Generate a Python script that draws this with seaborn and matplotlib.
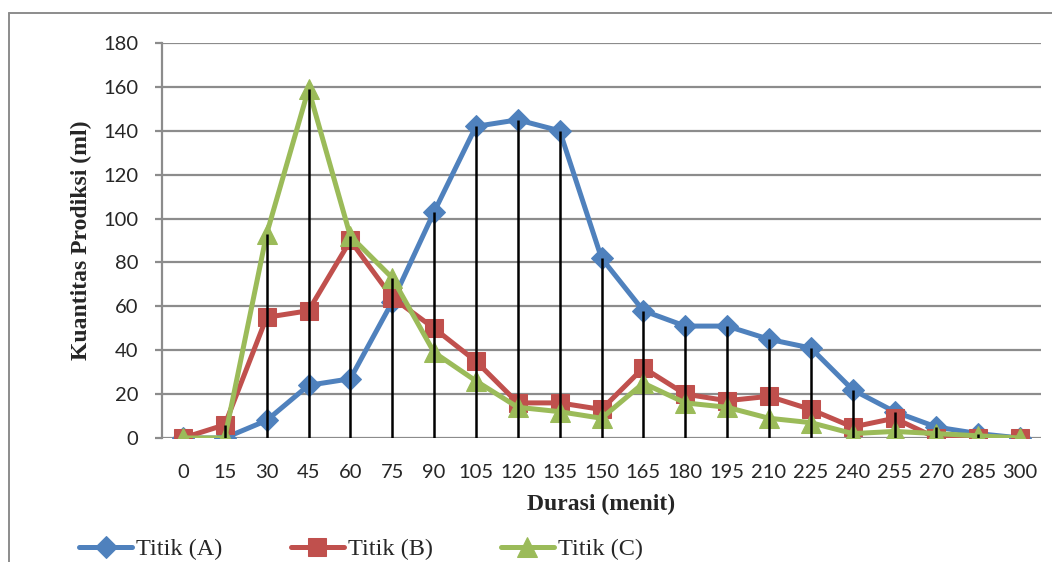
import matplotlib
matplotlib.use("Agg")
import matplotlib.pyplot as plt
import seaborn as sns
import pandas as pd
from matplotlib.lines import Line2D

# --- DATA ---
durasi = [0, 15, 30, 45, 60, 75, 90, 105, 120, 135, 150,
          165, 180, 195, 210, 225, 240, 255, 270, 285, 300]
titik_a = [0, 0, 8, 24, 27, 62, 103, 142, 145, 140, 82,
           58, 51, 51, 45, 41, 22, 12, 5, 2, 0]
titik_b = [0, 6, 55, 58, 90, 64, 50, 35, 16, 16, 13,
           32, 20, 17, 19, 13, 5, 9, 0, 0, 0]
titik_c = [0, 0, 93, 159, 92, 73, 39, 26, 14, 12, 9,
           25, 16, 14, 9, 7, 2, 3, 2, 1, 0]
y_ticks = [0, 20, 40, 60, 80, 100, 120, 140, 160, 180]

# --- STYLE ---
c_a = '#4F81BD'
c_b = '#C0504D'
c_c = '#9BBB59'
grid_c = '#8C8C8C'
serif = ['Liberation Serif', 'DejaVu Serif']
sans = ['Lato', 'DejaVu Sans']

sns.set_style("white")
plt.rcParams['font.family'] = sans

df = pd.DataFrame({'idx': range(len(durasi)), 'A': titik_a, 'B': titik_b, 'C': titik_c})

fig = plt.figure(figsize=(10.52, 5.62), dpi=100)
ax = fig.add_axes([162 / 1052, 1 - 438 / 562, (1041 - 162) / 1052, (438 - 43) / 562])

series = [('A', 'Titik (A)', c_a, 'D', 11),
          ('B', 'Titik (B)', c_b, 's', 12.5),
          ('C', 'Titik (C)', c_c, '^', 14)]
for col, lab, c, m, ms in series:
    sns.lineplot(data=df, x='idx', y=col, ax=ax, color=c, label=lab,
                 linewidth=3.6, marker=m, markersize=ms, markeredgecolor=c,
                 zorder=3)

# drop lines from the highest point at each duration
tops = df[['A', 'B', 'C']].max(axis=1)
ax.vlines(df['idx'], 0, tops, color='black', linewidth=1.8, zorder=4)

ax.set_xlim(-0.5, len(durasi) - 0.5)
ax.set_ylim(0, 180)
ax.set_yticks(y_ticks)
ax.set_xticks(range(len(durasi)))
ax.set_xticklabels([str(d) for d in durasi])
ax.yaxis.grid(True, color=grid_c, linewidth=1.6)
ax.set_axisbelow(True)
for s in ['top', 'right', 'bottom']:
    ax.spines[s].set_visible(False)
ax.spines['left'].set_color(grid_c)
ax.spines['left'].set_linewidth(1.6)
ax.tick_params(axis='y', length=5, width=1.6, color=grid_c, pad=12, labelsize=14.5, left=True)
ax.tick_params(axis='x', length=0, pad=19, labelsize=14.5)

ax.set_xlabel("Durasi (menit)", fontsize=17, fontweight='bold', family=serif, labelpad=9)
ax.set_ylabel("Kuantitas Prodiksi (ml)", fontsize=17, fontweight='bold', family=serif, labelpad=8)

ax.legend(loc='center left', bbox_to_anchor=(79 / 1052, 1 - 549 / 562),
          bbox_transform=fig.transFigure, ncol=3, frameon=False,
          prop={'family': serif, 'size': 17.5}, handlelength=2.2, handletextpad=0.15,
          columnspacing=2.8, borderaxespad=0, borderpad=0)

# chart area border (cropped on right/bottom)
fig.add_artist(Line2D([9 / 1052, 9 / 1052], [0, 1 - 13 / 562], color=grid_c, linewidth=1.4,
                      transform=fig.transFigure))
fig.add_artist(Line2D([9 / 1052, 1], [1 - 13 / 562, 1 - 13 / 562], color=grid_c, linewidth=1.4,
                      transform=fig.transFigure))

fig.savefig("out.png", dpi=100)
